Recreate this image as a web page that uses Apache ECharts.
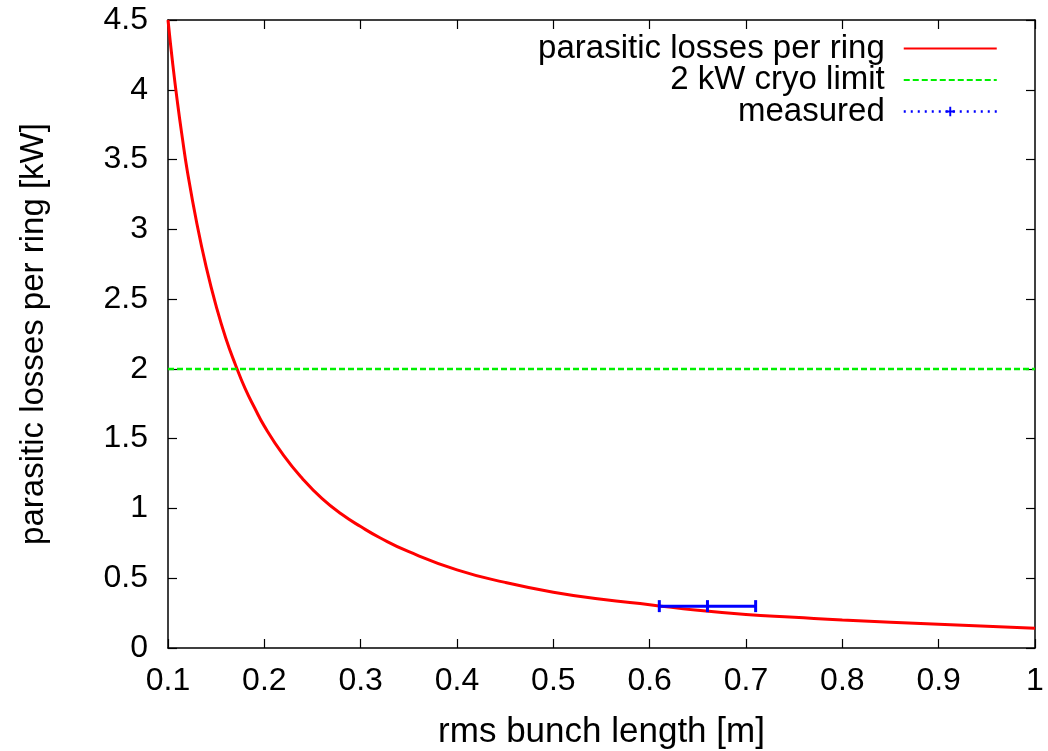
<!DOCTYPE html>
<html>
<head>
<meta charset="utf-8">
<script src="https://cdn.jsdelivr.net/npm/echarts@6/dist/echarts.min.js"></script>
<style>
html,body{margin:0;padding:0;background:#fff;}
#chart{width:1048px;height:751px;}
</style>
</head>
<body>
<div id="chart"></div>
<script>
// Data
var bunchLength = [0.100, 0.105, 0.110, 0.115, 0.120, 0.130, 0.140, 0.150, 0.160, 0.170, 0.180, 0.190, 0.200, 0.220, 0.240, 0.260, 0.280, 0.300, 0.320, 0.350, 0.400, 0.450, 0.500, 0.550, 0.600, 0.650, 0.700, 0.750, 0.800, 0.900, 1.000];
var lossesPerRing = [4.50, 4.18, 3.90, 3.65, 3.42, 3.04, 2.72, 2.45, 2.22, 2.03, 1.86, 1.72, 1.59, 1.38, 1.21, 1.07, 0.96, 0.87, 0.79, 0.69, 0.56, 0.47, 0.40, 0.35, 0.31, 0.27, 0.24, 0.22, 0.20, 0.17, 0.142];
var cryoLimitX = [0.1, 1.0];
var cryoLimitY = [2, 2];
var measuredX = [0.61, 0.66, 0.71]; // low, centre, high
var measuredY = [0.3, 0.3, 0.3];
var seriesNames = ['parasitic losses per ring', '2 kW cryo limit', 'measured'];
var xTitle = 'rms bunch length [m]';
var yTitle = 'parasitic losses per ring [kW]';

var FONT = 'Liberation Sans, Arial, Helvetica, sans-serif';
var capSymbol = 'path://M0,0H2V10H0Z';
var plusSymbol = 'path://M4,0H6V4H10V6H6V10H4V6H0V4H4Z';

function pairs(xs, ys) { return xs.map(function (x, i) { return [x, ys[i]]; }); }

var chart = echarts.init(document.getElementById('chart'), null, { renderer: 'canvas' });
var axisCommon = {
  type: 'value',
  axisLine: { show: true, onZero: false, lineStyle: { color: '#000', width: 1.5 } },
  axisTick: { show: true, inside: true, length: 9, lineStyle: { color: '#000', width: 1.2 } },
  splitLine: { show: false }
};
chart.setOption({
  animation: false,
  backgroundColor: '#fff',
  textStyle: { fontFamily: FONT },
  grid: { left: 168, right: 13, top: 20, bottom: 103, containLabel: false, outerBoundsMode: 'none' },
  legend: {
    orient: 'vertical',
    right: 50,
    top: 32,
    padding: 0,
    align: 'right',
    itemWidth: 93,
    itemHeight: 12,
    itemGap: -1.5,
    textStyle: { fontFamily: FONT, fontSize: 33, color: '#000', padding: [0, 14, 0, 0] },
    data: [
      { name: seriesNames[0], itemStyle: { opacity: 0 } },
      { name: seriesNames[1], itemStyle: { opacity: 0 } },
      { name: seriesNames[2], lineStyle: { type: [2, 5], width: 2.5, color: '#0000ff' } }
    ]
  },
  xAxis: [
    Object.assign({}, axisCommon, {
      min: 0.1, max: 1, interval: 0.1, position: 'bottom',
      name: xTitle, nameLocation: 'middle', nameGap: 67,
      nameTextStyle: { fontFamily: FONT, fontSize: 35, color: '#000' },
      axisLabel: { fontFamily: FONT, fontSize: 32, color: '#000', margin: 17,
        formatter: function (v) { return String(Math.round(v * 10) / 10); } }
    }),
    Object.assign({}, axisCommon, {
      min: 0.1, max: 1, interval: 0.1, position: 'top',
      axisLabel: { show: false }
    })
  ],
  yAxis: [
    Object.assign({}, axisCommon, {
      min: 0, max: 4.5, interval: 0.5, position: 'left',
      name: yTitle, nameLocation: 'middle', nameGap: 118,
      nameTextStyle: { fontFamily: FONT, fontSize: 33, color: '#000' },
      axisLabel: { fontFamily: FONT, fontSize: 32, color: '#000', margin: 20 }
    }),
    Object.assign({}, axisCommon, {
      min: 0, max: 4.5, interval: 0.5, position: 'right',
      axisLabel: { show: false }
    })
  ],
  series: [
    {
      name: seriesNames[0], type: 'line', smooth: true, showSymbol: false, symbol: 'none',
      data: pairs(bunchLength, lossesPerRing),
      lineStyle: { color: '#ff0000', width: 3 }, itemStyle: { color: '#ff0000' },
      z: 2
    },
    {
      name: seriesNames[1], type: 'line', symbol: 'none',
      data: pairs(cryoLimitX, cryoLimitY),
      lineStyle: { color: '#00f000', width: 2.5, type: [6, 3] }, itemStyle: { color: '#00f000' },
      z: 3
    },
    {
      name: seriesNames[2], type: 'line', symbol: plusSymbol, symbolSize: [11, 11],
      showSymbol: true, showAllSymbol: true,
      data: pairs(measuredX, measuredY).map(function (p) { return { value: p, symbol: capSymbol, symbolSize: [3, 12] }; }),
      lineStyle: { color: '#0000ff', width: 3 }, itemStyle: { color: '#0000ff' },
      z: 4
    }
  ]
});
</script>
</body>
</html>
